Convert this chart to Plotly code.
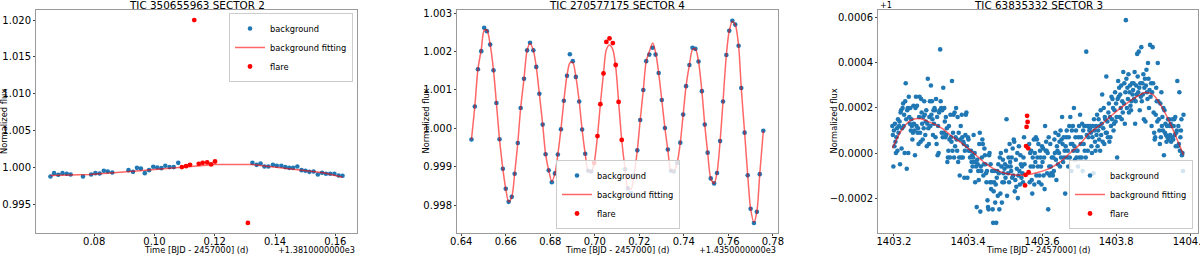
import plotly.graph_objects as go

# ---------------- Panel 1: TIC 350655963 SECTOR 2 (time offset +1381) ----------------
p1_bg_t = [0.0655, 0.0667, 0.0681, 0.0695, 0.0709, 0.0722, 0.0763, 0.0790, 0.0804, 0.0818,
           0.0832, 0.0845, 0.0860, 0.0914, 0.0929, 0.0942, 0.0955, 0.0968, 0.0982, 0.0996,
           0.1009, 0.1023, 0.1036, 0.1050, 0.1064, 0.1079,
           0.1325, 0.1339, 0.1352, 0.1365, 0.1378, 0.1393, 0.1406, 0.1421, 0.1434, 0.1447,
           0.1460, 0.1474, 0.1488, 0.1501, 0.1514, 0.1528, 0.1542, 0.1556, 0.1569, 0.1583,
           0.1597, 0.1611, 0.1624]
p1_bg_f = [0.99878, 0.99923, 0.99901, 0.99923, 0.99914, 0.99905, 0.99878, 0.99905, 0.99923, 0.99919,
           0.99955, 0.99946, 0.99932, 0.99964, 0.99941, 0.99995, 0.99986, 0.99923, 0.99964, 1.00009,
           1.00000, 0.99991, 1.00023, 1.00005, 1.00005, 1.00063,
           1.00063, 1.00036, 1.00054, 1.00014, 1.00014, 1.00036, 1.00023, 1.00023, 1.00005, 0.99995,
           0.99995, 1.00014, 0.99964, 0.99955, 0.99941, 0.99946, 0.99905, 0.99928, 0.99914, 0.99914,
           0.99914, 0.99892, 0.99887]
p1_fl_t = [0.1091, 0.1105, 0.1118, 0.1132, 0.1147, 0.1160, 0.1175, 0.1188, 0.1201, 0.1310]
p1_fl_f = [1.00005, 1.00018, 1.00036, 1.02000, 1.00050, 1.00063, 1.00068, 1.00041, 1.00081, 0.99248]
p1_fit_t = [0.0655, 0.0786, 0.0930, 0.1063, 0.1201, 0.1325, 0.1450, 0.1561, 0.1624]
p1_fit_f = [0.99890, 0.99905, 0.99950, 0.99998, 1.00041, 1.00041, 0.99986, 0.99928, 0.99868]
p1_xticks = [0.08, 0.10, 0.12, 0.14, 0.16]
p1_yticks = [0.995, 1.000, 1.005, 1.010, 1.015, 1.020]

# ---------------- Panel 2: TIC 270577175 SECTOR 4 (time offset +1435) ----------------
p2_t = [0.6446, 0.6461, 0.6475, 0.6490, 0.6503, 0.6515, 0.6530, 0.6545, 0.6558, 0.6572,
        0.6587, 0.6600, 0.6613, 0.6627, 0.6640, 0.6654, 0.6667, 0.6682, 0.6696, 0.6709,
        0.6724, 0.6737, 0.6751, 0.6766, 0.6779, 0.6793, 0.6807, 0.6821, 0.6834, 0.6848,
        0.6861, 0.6875, 0.6888, 0.6901, 0.6915, 0.6930, 0.6943, 0.6957, 0.6970, 0.6984,
        0.6997, 0.7012, 0.7025, 0.7039, 0.7052, 0.7066, 0.7081, 0.7094, 0.7107, 0.7121,
        0.7136, 0.7149, 0.7163, 0.7176, 0.7191, 0.7204, 0.7218, 0.7231, 0.7245, 0.7260,
        0.7273, 0.7287, 0.7301, 0.7315, 0.7328, 0.7342, 0.7355, 0.7370, 0.7384, 0.7397,
        0.7410, 0.7425, 0.7439, 0.7452, 0.7466, 0.7481, 0.7494, 0.7507, 0.7521, 0.7536,
        0.7549, 0.7563, 0.7576, 0.7591, 0.7604, 0.7618, 0.7631, 0.7646, 0.7658, 0.7673,
        0.7687, 0.7700, 0.7715, 0.7728, 0.7741, 0.7757]
p2_f = [0.99971, 1.00057, 1.00154, 1.00201, 1.00262, 1.00253, 1.00218, 1.00151, 1.00066, 0.99972,
        0.99895, 0.99843, 0.99809, 0.99822, 0.99882, 0.99962, 1.00053, 1.00129, 1.00203, 1.00223,
        1.00203, 1.00160, 1.00090, 1.00010, 0.99933, 0.99891, 0.99860, 0.99883, 0.99932, 0.99998,
        1.00072, 1.00137, 1.00193, 1.00175, 1.00134, 1.00070, 0.99997, 0.99934, 0.99890, 0.99888,
        0.99910, 0.99980, 1.00063, 1.00143, 1.00225, 1.00234, 1.00222, 1.00165, 1.00069, 0.99970,
        0.99894, 0.99844, 0.99832, 0.99878, 0.99943, 1.00022, 1.00100, 1.00175, 1.00192, 1.00210,
        1.00192, 1.00144, 1.00074, 1.00001, 0.99945, 0.99890, 0.99888, 0.99910, 0.99963, 1.00036,
        1.00110, 1.00165, 1.00210, 1.00207, 1.00174, 1.00097, 1.00010, 0.99937, 0.99870, 0.99857,
        0.99884, 0.99967, 1.00070, 1.00191, 1.00254, 1.00280, 1.00270, 1.00215, 1.00105, 0.99989,
        0.99878, 0.99791, 0.99754, 0.99783, 0.99881, 0.99994]
p2_fit = [0.99971, 1.00057, 1.00154, 1.00205, 1.00255, 1.00256, 1.00218, 1.00151, 1.00066, 0.99972,
          0.99895, 0.99843, 0.99809, 0.99822, 0.99882, 0.99962, 1.00053, 1.00129, 1.00203, 1.00221,
          1.00203, 1.00160, 1.00090, 1.00010, 0.99933, 0.99891, 0.99862, 0.99883, 0.99932, 0.99998,
          1.00072, 1.00137, 1.00170, 1.00172, 1.00134, 1.00070, 0.99997, 0.99934, 0.99890, 0.99888,
          0.99910, 0.99980, 1.00063, 1.00143, 1.00205, 1.00217, 1.00205, 1.00160, 1.00069, 0.99970,
          0.99894, 0.99844, 0.99842, 0.99878, 0.99943, 1.00022, 1.00100, 1.00175, 1.00200, 1.00222,
          1.00198, 1.00144, 1.00074, 1.00001, 0.99945, 0.99890, 0.99888, 0.99910, 0.99963, 1.00036,
          1.00110, 1.00165, 1.00205, 1.00207, 1.00174, 1.00097, 1.00010, 0.99937, 0.99870, 0.99857,
          0.99884, 0.99967, 1.00070, 1.00191, 1.00254, 1.00278, 1.00270, 1.00215, 1.00105, 0.99989,
          0.99878, 0.99791, 0.99756, 0.99783, 0.99881, 0.99994]
p2_flare = (40, 50)          # index range of flare points (start, stop)
p2_xticks = [0.64, 0.66, 0.68, 0.70, 0.72, 0.74, 0.76, 0.78]
p2_yticks = [0.998, 0.999, 1.000, 1.001, 1.002, 1.003]

# ---------------- Panel 3: TIC 63835332 SECTOR 3 (flux offset +1) ----------------
p3_t0 = 1403.1957            # first sample time
p3_cad = 0.0013889           # 2-minute cadence (d)
# flux - 1, in units of 1e-5, one per cadence
p3_off = [
    12, 8, -6, 10, 3, 13, 5, 0, 7, 11, 1, 15, 9, 12, 14, -5, 18, 19, 2, 11, 20, 22, 12, 17, 0, 23, 31, 15, -7, 19, 20, 0, 25, 16, 13, 20,
    10, 15, 12, 6, 9, 21, 13, 10, -1, 20, 25, 12, 21, 9, 11, 4, 16, 25, 9, 5, 24, 18, 13, 6, 16, 11, 23, 17, 8, 14, 19, 3, 13, 33, 11, 4,
    16, 23, 12, 30, 17, 23, 15, 8, 19, 13, 20, 19, 7, 24, 4, 16, -1, 12, 0, 18, 19, 46, 23, 20, 9, 19, 7, 29, 9, 20, 14, 7, 16, 8, 11, -4,
    -2, 1, 12, 6, -2, 17, 7, 5, 32, 1, 9, 17, -2, 18, 3, 7, 20, 6, 1, 16, -4, 9, -2, -10, 6, 12, -2, 17, 7, -2, 5, 4, -11, 1, 8, 17,
    18, 3, -11, 7, 6, 1, 1, -2, -8, 1, -4, -1, -6, -2, 8, -4, 0, -13, -4, -6, -24, -3, -5, -8, -12, 4, 9, -26, -6, -8, -2, 6, 4, -10, -5, 2,
    -1, -5, -9, -13, -8, -21, -24, -25, -1, 0, -13, -5, -16, -13, -8, -25, -31, -17, -13, -8, -22, -14, -31, -11, -8, -19, -5, -9, -25, -2, -18, 0, -6, -22, -13, -3,
    -9, -13, -7, -5, -11, 1, 15, -19, -6, -9, -2, -13, 4, -4, -6, -8, -2, -11, 2, -10, 6, 5, -17, -12, -3, -15, -7, 0, -20, -10, 3, -8, -14, -1, -5, -11,
    -6, -9, -13, -2, 7, -5, -14.4, -9.7, 3.1, 11.6, 16.5, 13.8, 2.1, -8.5, 4, -13, 0, -6, 1, -12, -18, -2, -6, 6, -14, 0, -4, 7, -10, 6, -2, -6, 4, -13, -10, 1,
    -2, -6, -14, 3, -4, 2, -10, -2, -16, 12, 1, 5, 1, -9, 0, -25, 7, -6, -10, 4, -6, -9, -2, -9, -10, -2, -8, 6, 0, 9, -3, -12, 3, 1, -5, 8,
    0, 5, -6, 10, -2, 6, 16, 4, -4, 7, -2, 1, -18, 3, 7, 10, -2, 1, -6, 7, 12, -2, 16, 4, -8, 10, 4, 12, 1, 20, 3, -3, 7, 10, -2, 1,
    1, -6, 7, 12, -2, 17, 4, 7, -2, 13, -8, 10, 4, 12, 1, 12, -2, 45, 8, 12, 1, 7, 12, 10, 11, 12, 9, 3, 0, 7, 12, -9, 15, 10, 5, 1,
    12, 8, 17, 3, 10, 15, 6, 12, 1, 19, 8, 13, 26, 5, 11, 20, 4, 16, 15, 9, 34, 9, 14, 7, 18, 22, 5, 16, 7, 12, 25, 15, 24, 20, 10, 13,
    19, 27, 14, 22, 16, -2, 24, 32, 25, 29, 16, 26, 20, 30, 15, 23, 18, 36, 22, 31, 13, 27, 59, 33, 20, 29, 24, 35, 18, 27, 30, 21, 19, 23, 31, 26,
    28, 31, 24, 36, 13, 23, 30, 26, 44, 34, 27, 45, 29, 19, 31, 25, 47, 23, 31, 26, 35, 15, 29, 33, 14, 30, 37, 27, 24, 40, 33, 20, 28, 48, 25, 31,
    12, 27, 47, 31, 18, 9, 6, 7, 17, 29, 23, 14, 40, 23, 15, 10, 4, 22, 7, 27, 12, 16, 10, 20, -1, 19, 9, 13, 8, 5, 12, 7, 15, 6, 15, 12,
    8, 13, 5, 12, 7, 15, 6, 12, 15, 8, 16, 3, 9, 10, 32, 3, 12, 4, 27, 1, 7, 10, 15, -1, 0, -8, 17,
]
p3_flare = (258, 266)
p3_fit_t = [1403.196, 1403.22, 1403.245, 1403.267, 1403.30, 1403.33, 1403.36, 1403.384, 1403.415,
            1403.447, 1403.47, 1403.50, 1403.53, 1403.558, 1403.59, 1403.621, 1403.65, 1403.675,
            1403.70, 1403.727, 1403.763, 1403.79, 1403.816, 1403.85, 1403.879, 1403.90, 1403.915,
            1403.942, 1403.962, 1403.982]
p3_fit_off = [2.1, 10, 14.5, 15.3, 13.5, 10.9, 7, 4.3, 0, -4.6, -7, -9, -9.8, -9.7, -8.5, -6.8,
              -3.8, -0.1, 3.5, 8.7, 13.1, 17, 20.5, 24.5, 26.9, 25.8, 22.7, 14.6, 7, -0.9]
p3_xticks = [1403.2, 1403.4, 1403.6, 1403.8, 1404.0]
p3_yticks = [-0.0002, 0.0, 0.0002, 0.0004, 0.0006]

titles = ["TIC 350655963 SECTOR 2", "TIC 270577175 SECTOR 4", "TIC 63835332 SECTOR 3"]
x_label = "Time [BJD - 2457000] (d)"
y_label = "Normalized flux"
x_offsets = ["+1.3810000000e3", "+1.4350000000e3", None]

# ---------------- build ----------------
BLUE = "#1f77b4"
RED = "red"
FIT = "rgba(255,0,0,0.6)"
FONT = "DejaVu Sans"
W, H = 1200, 256

p3_t = [p3_t0 + i * p3_cad for i in range(len(p3_off))]
p3_f = [v * 1e-5 for v in p3_off]
a, b = p3_flare
p3_bg_t = p3_t[:a] + p3_t[b:]
p3_bg_f = p3_f[:a] + p3_f[b:]
p3_fl_t = p3_t[a:b]
p3_fl_f = p3_f[a:b]
c, d = p2_flare
p2_bg_t = p2_t[:c] + p2_t[d:]
p2_bg_f = p2_f[:c] + p2_f[d:]
p2_fl_t = p2_t[c:d]
p2_fl_f = p2_f[c:d]

fig = go.Figure()

def add_panel(n, bg_t, bg_f, fit_t, fit_f, fl_t, fl_f, shape):
    xa = "x" if n == 1 else f"x{n}"
    ya = "y" if n == 1 else f"y{n}"
    lg = "legend" if n == 1 else f"legend{n}"
    fig.add_trace(go.Scatter(x=bg_t, y=bg_f, mode="markers", name="background",
                             marker=dict(color=BLUE, size=4.6), xaxis=xa, yaxis=ya, legend=lg))
    line = dict(color=FIT, width=1.5, shape=shape)
    if shape == "spline":
        line["smoothing"] = 0.8
    fig.add_trace(go.Scatter(x=fit_t, y=fit_f, mode="lines", name="background fitting",
                             line=line, xaxis=xa, yaxis=ya, legend=lg))
    fig.add_trace(go.Scatter(x=fl_t, y=fl_f, mode="markers", name="flare",
                             marker=dict(color=RED, size=4.8), xaxis=xa, yaxis=ya, legend=lg))

add_panel(1, p1_bg_t, p1_bg_f, p1_fit_t, p1_fit_f, p1_fl_t, p1_fl_f, "linear")
add_panel(2, p2_bg_t, p2_bg_f, p2_t, p2_fit, p2_fl_t, p2_fl_f, "spline")
add_panel(3, p3_bg_t, p3_bg_f, p3_fit_t, [v * 1e-5 for v in p3_fit_off], p3_fl_t, p3_fl_f, "spline")

# pixel geometry of the three axes boxes
boxes = [(36, 357), (457, 778), (878, 1198)]
top_px, bot_px = 10, 233
ydom = [1 - bot_px / H, 1 - top_px / H]

axis_common = dict(showgrid=False, zeroline=False, showline=True, mirror=True,
                   linecolor="#9a9a9a", linewidth=1, ticks="outside", ticklen=2,
                   tickcolor="#444", tickwidth=1, automargin=False,
                   ticklabeloverflow="allow",
                   tickfont=dict(family=FONT, size=10, color="black"))

xranges = [[0.0607, 0.1672], [0.6381, 0.7823], [1403.157, 1404.021]]
yranges = [[0.99111, 1.02137], [0.99728, 1.00308], [-0.000355, 0.000635]]
xticks = [p1_xticks, p2_xticks, p3_xticks]
yticks = [p1_yticks, p2_yticks, p3_yticks]
xfmt = [".2f", ".2f", ".1f"]
yfmt = [".3f", ".3f", ".4f"]

layout = dict(template="none", width=W, height=H, margin=dict(l=0, r=0, t=0, b=0, pad=0),
              paper_bgcolor="white", plot_bgcolor="white",
              font=dict(family=FONT, color="black"))
annotations = []
for k in range(3):
    n = k + 1
    xk = "xaxis" if n == 1 else f"xaxis{n}"
    yk = "yaxis" if n == 1 else f"yaxis{n}"
    l, r = boxes[k]
    layout[xk] = dict(axis_common, domain=[l / W, r / W], range=xranges[k],
                      tickvals=xticks[k], tickformat=xfmt[k], ticklabelstandoff=-3,
                      anchor="y" if n == 1 else f"y{n}")
    layout[yk] = dict(axis_common, domain=ydom, range=yranges[k],
                      tickvals=yticks[k], tickformat=yfmt[k],
                      anchor="x" if n == 1 else f"x{n}")
    cx = (l + r) / 2
    annotations.append(dict(text=titles[k], x=cx / W, y=1 - 4.8 / H, xref="paper", yref="paper",
                            xanchor="center", yanchor="middle", showarrow=False,
                            font=dict(family=FONT, size=10.4, color="black")))
    annotations.append(dict(text=x_label, x=cx / W, y=1 - 250 / H, xref="paper", yref="paper",
                            xanchor="center", yanchor="middle", showarrow=False,
                            font=dict(family=FONT, size=8.3, color="black")))
    ylx = [3.5, 425, 833][k]
    annotations.append(dict(text=y_label, x=ylx / W, y=1 - 121.5 / H, xref="paper", yref="paper",
                            xanchor="center", yanchor="middle", showarrow=False, textangle=-90,
                            font=dict(family=FONT, size=8.3, color="black")))
    if x_offsets[k]:
        annotations.append(dict(text=x_offsets[k], x=r / W, y=1 - 250 / H, xref="paper", yref="paper",
                                xanchor="right", yanchor="middle", showarrow=False,
                                font=dict(family=FONT, size=8.2, color="black")))
annotations.append(dict(text="+1", x=878 / W, y=1 - 4.5 / H, xref="paper", yref="paper",
                        xanchor="left", yanchor="middle", showarrow=False,
                        font=dict(family=FONT, size=8.2, color="black")))
layout["annotations"] = annotations

leg_common = dict(bgcolor="rgba(255,255,255,0.8)", bordercolor="#cccccc", borderwidth=1,
                  font=dict(family=FONT, size=8.3, color="black"), tracegroupgap=0)
layout["legend"] = dict(leg_common, x=353 / W, y=1 - 13 / H, xanchor="right", yanchor="top")
layout["legend2"] = dict(leg_common, x=618 / W, y=1 - 229 / H, xanchor="center", yanchor="bottom")
layout["legend3"] = dict(leg_common, x=1193 / W, y=1 - 229 / H, xanchor="right", yanchor="bottom")
layout["showlegend"] = True

fig.update_layout(**layout)
fig.write_html("out.html", config={"displayModeBar": False},
               post_script="document.body.style.margin='0';document.body.style.padding='0';"
                           "document.body.style.overflow='hidden';")
